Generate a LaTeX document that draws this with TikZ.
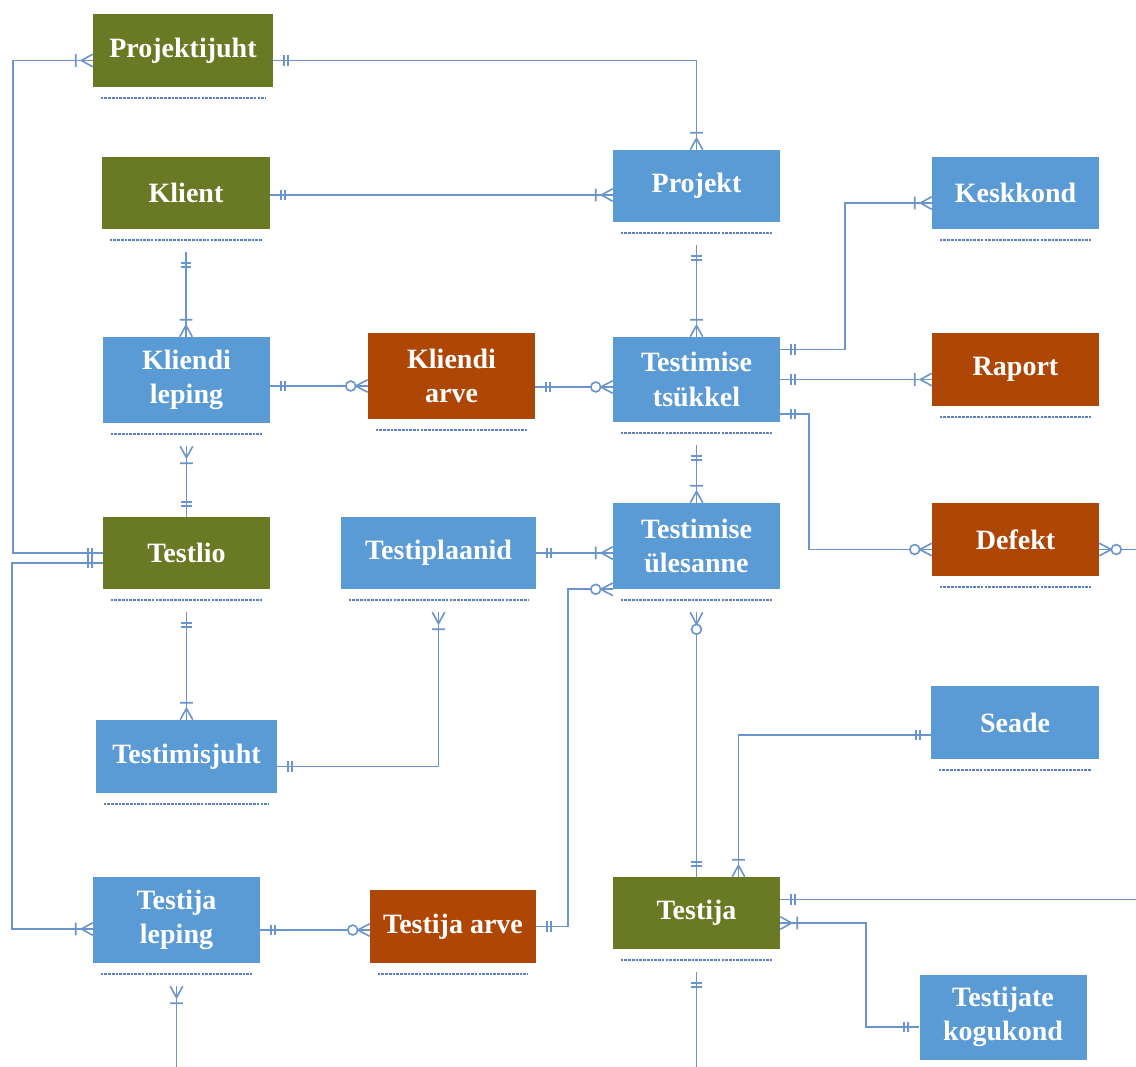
\documentclass[tikz,border=0pt]{standalone}
\usepackage{fontspec}
\setmainfont{Liberation Serif}
\usetikzlibrary{decorations.markings}

\definecolor{entgreen}{RGB}{106,121,36}
\definecolor{entblue}{RGB}{91,155,213}
\definecolor{entred}{RGB}{174,70,6}
\definecolor{lineblue}{RGB}{108,148,204}
\definecolor{attrblue}{RGB}{92,128,190}

% crow's foot end symbols, drawn in the local frame of a path end (box at x=0)
\newcommand\erOne{\draw[erm] (-8.25pt,-3.9pt) -- (-8.25pt,3.9pt) (-11.25pt,-3.9pt) -- (-11.25pt,3.9pt);}
\newcommand\erMany{\draw[erm] (0,4.7pt) -- (-8.5pt,0) -- (0,-4.7pt) (-12.75pt,-4.7pt) -- (-12.75pt,4.7pt);}
\newcommand\erZero{\draw[erm] (0,4.7pt) -- (-9pt,0) -- (0,-4.7pt); \draw[erm,fill=white] (-12.75pt,0) circle (3.7pt);}

% entity box with its attribute separator and a bottom attachment point
\newcommand\entity[7]{%
  \node[ent, fill=#2, minimum width=#5*0.75pt, minimum height=#6*0.75pt] (#1) at (#3,#4) {#7};
  \draw[attr] ([xshift=6pt,yshift=-8.25pt]#1.south west) -- ([xshift=-6pt,yshift=-8.25pt]#1.south east);
  \coordinate (#1-b) at ([yshift=-17.25pt]#1.south);
}

\tikzset{
  ent/.style={inner sep=0pt, text=white, align=center,
    font=\bfseries\fontsize{21}{26}\selectfont},
  attr/.style={draw=attrblue, line width=1.3pt, dash pattern=on 2pt off 0.8pt},
  conn/.style={draw=lineblue, line width=1.3pt},
  erm/.style={draw=lineblue, line width=1.2pt, solid},
  endsym/.style={postaction={decorate, decoration={markings, mark=at position 1 with {#1}}}},
  startsym/.style={postaction={decorate, decoration={markings,
    mark=at position 0 with {\begin{scope}[xscale=-1]#1\end{scope}}}}},
  eOne/.style={endsym=\erOne},
  eMany/.style={endsym=\erMany},
  eZero/.style={endsym=\erZero},
  sOne/.style={startsym=\erOne},
  sMany/.style={startsym=\erMany},
  sZero/.style={startsym=\erZero},
}

\begin{document}
\begin{tikzpicture}[x=0.75pt,y=-0.75pt]
\useasboundingbox[fill=white] (0,0) rectangle (1136,1067);
\coordinate (rim) at (1136,0);
\coordinate (floor) at (0,1067);

\entity{pj}{entgreen}{183}{50.5}{180}{73}{Projektijuht}
\entity{kl}{entgreen}{186}{193}{168}{72}{Klient}
\entity{pr}{entblue}{696.5}{186}{167}{72}{Projekt}
\entity{ke}{entblue}{1015.5}{193}{167}{72}{Keskkond}
\entity{kle}{entblue}{186.5}{380}{167}{86}{Kliendi\\leping}
\entity{ka}{entred}{451.5}{376}{167}{86}{Kliendi\\arve}
\entity{tt}{entblue}{696.5}{379.5}{167}{85}{Testimise\\tsükkel}
\entity{ra}{entred}{1015.5}{369.5}{167}{73}{Raport}
\entity{tl}{entgreen}{186.5}{553}{167}{72}{Testlio}
\entity{tp}{entblue}{438.5}{553}{195}{72}{Testiplaanid}
\entity{tu}{entblue}{696.5}{546}{167}{86}{Testimise\\ülesanne}
\entity{de}{entred}{1015.5}{539.5}{167}{73}{Defekt}
\entity{tj}{entblue}{186.5}{756.5}{181}{73}{Testimisjuht}
\entity{se}{entblue}{1015}{722.5}{168}{73}{Seade}
\entity{tle}{entblue}{176.5}{920}{167}{86}{Testija\\leping}
\entity{ta}{entred}{453}{926.5}{166}{73}{Testija arve}
\entity{ti}{entgreen}{696.5}{913}{167}{72}{Testija}
\entity{tk}{entblue}{1003}{1017}{167}{85}{Testijate\\kogukond}

% relationships
\draw[conn, sMany, eOne] ([yshift=-7.5pt]pj.west) -- ++(-80,0) |- (tl.west);
\draw[conn, sOne, eMany] ([yshift=-7.5pt]pj.east) -| (pr.north);
\draw[conn, sOne, eMany] ([yshift=-1.5pt]kl.east) coordinate (k1) -- (k1 -| pr.west);
\draw[conn, sOne, eMany] (kl-b) -- (kl-b |- kle.north);
\draw[conn, sOne, eMany] (pr-b) -- (tt.north);
\draw[conn, sOne, eZero] ([yshift=-4.5pt]kle.east) coordinate (k2) -- (k2 -| ka.west);
\draw[conn, sOne, eZero] ([yshift=-8.25pt]ka.east) coordinate (k3) -- (k3 -| tt.west);
\draw[conn, sOne, eMany] ([yshift=22.5pt]tt.east) -- ++(65,0) |- ([yshift=-7.5pt]ke.west);
\draw[conn, sOne, eMany] (tt.east) -- (tt.east -| ra.west);
\draw[conn, sOne, eZero] ([yshift=-25.9pt]tt.east) -- ++(29,0) |- ([yshift=-7.5pt]de.west);
\draw[conn, sZero] ([yshift=-7.5pt]de.east) coordinate (k4) -- (k4 -| rim);
\draw[conn, sMany, eOne] (kle-b) -- (kle-b |- tl.north);
\draw[conn, sOne, eMany] (tt-b) -- (tu.north);
\draw[conn, sOne, eMany] (tl-b) -- (tj.north);
\draw[conn, sOne, eMany] (tp.east) -- (tp.east -| tu.west);
\draw[conn, sOne, eMany] ([yshift=-7.5pt]tj.east) -| (tp-b);
\draw[conn, sOne, eZero] (ta.east) -- ++(32,0) |- (tu.south west);
\draw[conn, sZero, eOne] (tu-b) -- (ti.north);
\draw[conn, sOne, eMany] ([yshift=-9.4pt]se.west) -| ([xshift=31.5pt]ti.north);
\draw[conn, sOne] ([yshift=10.1pt]ti.east) coordinate (k5) -- (k5 -| rim);
\draw[conn, sMany, eOne] ([yshift=-7.5pt]ti.east) -- ++(86,0) |- ([yshift=-7.5pt]tk.west);
\draw[conn, sOne] (ti-b) -- (ti-b |- floor);
\draw[conn, sOne, eMany] ([yshift=-7.5pt]tl.west) -- ++(-91,0) |- ([yshift=-6.75pt]tle.west);
\draw[conn, sOne, eZero] ([yshift=-7.5pt]tle.east) coordinate (k6) -- (k6 -| ta.west);
\draw[conn, sMany] (tle-b) -- (tle-b |- floor);
\end{tikzpicture}
\end{document}
